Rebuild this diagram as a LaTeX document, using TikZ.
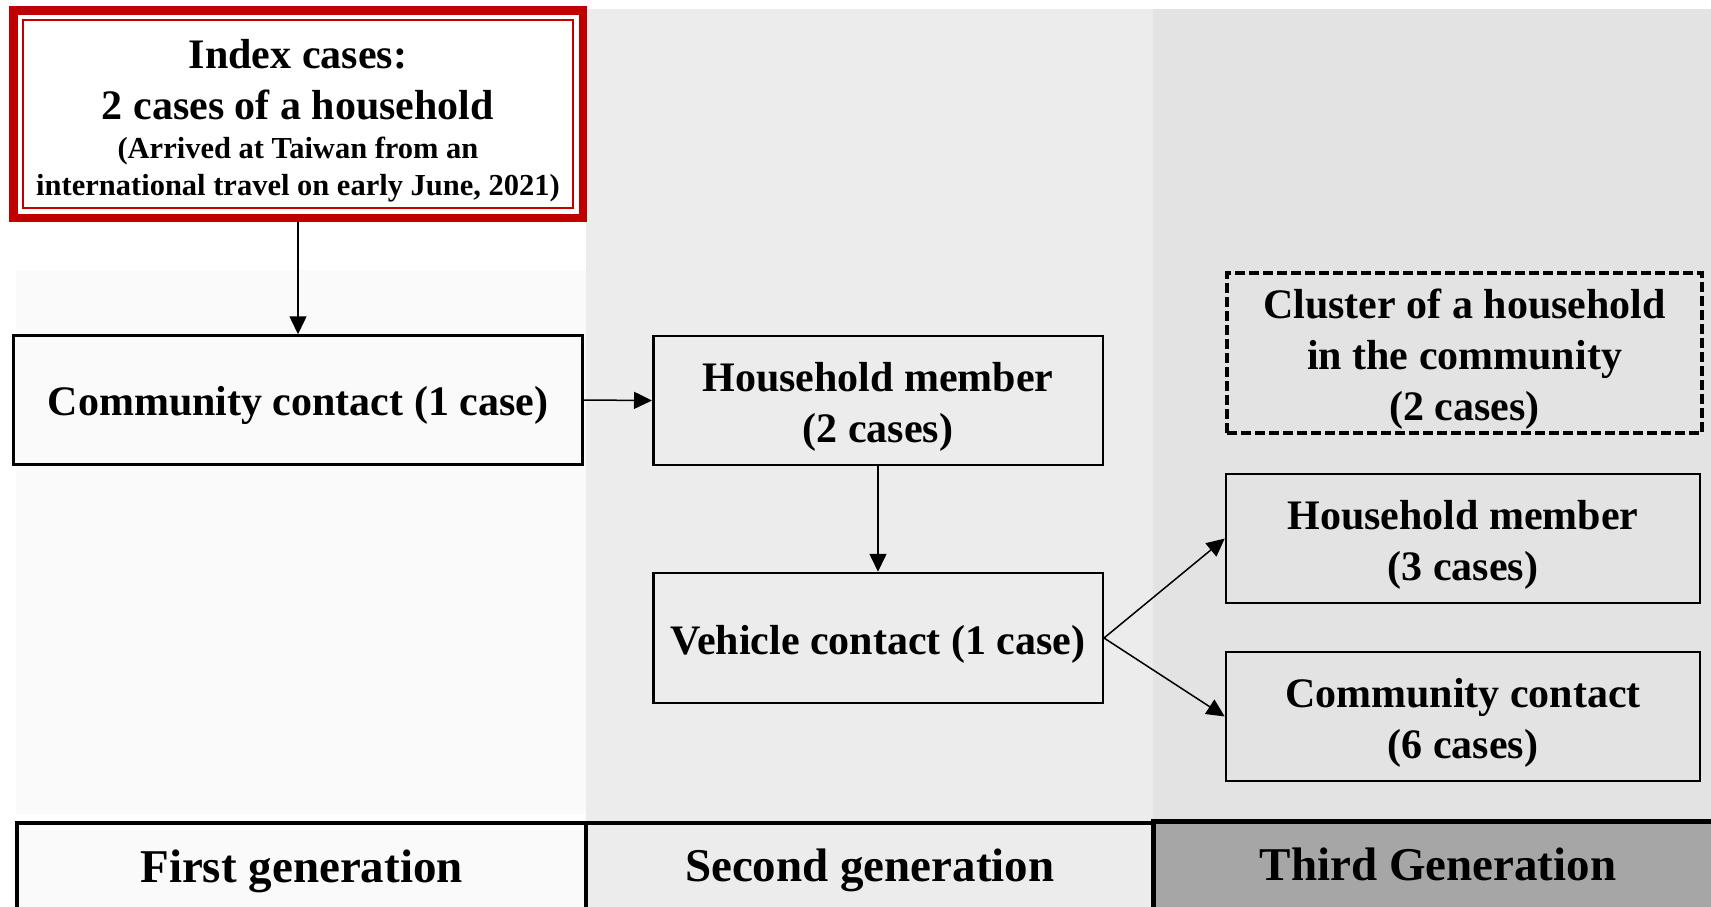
\documentclass[tikz,border=0pt]{standalone}
\usepackage{fontspec}
\setmainfont{Liberation Serif}
\usetikzlibrary{arrows.meta}
\tikzset{>={Triangle[length=18pt,width=17pt]}}
\definecolor{idxred}{HTML}{C00000}
\definecolor{pone}{HTML}{FAFAFA}
\definecolor{ptwo}{HTML}{ECECEC}
\definecolor{pthree}{HTML}{E3E3E3}
\definecolor{genthree}{HTML}{A6A6A6}
\newcommand{\boxstrut}{\rule[-9pt]{0pt}{50pt}}

\begin{document}
\begin{tikzpicture}[x=1pt, y=-1pt,
    box/.style={draw, line width=2.5pt, align=center, inner sep=0pt,
      font=\bfseries\fontsize{42}{51}\selectfont},
    idxbox/.style={draw=idxred, line width=8.5pt, fill=white, inner sep=0pt,
      text width=560pt, align=flush center, font=\bfseries},
    genbox/.style={draw, line width=4pt, minimum height=94pt, inner sep=0pt,
      text height=34pt, text depth=10pt, font=\bfseries\fontsize{47}{56}\selectfont},
    link/.style={->, line width=1.5pt}]
    \useasboundingbox (0,0) rectangle (1711,906);
    \fill[white] (0,0) rectangle (1711,906);
    \fill[pone] (16,270) rectangle (586,814);
    \fill[ptwo] (586,9) rectangle (1153,821);
    \fill[pthree] (1153,9) rectangle (1711,821);

    \node[idxbox, minimum width=569.5pt, minimum height=207.5pt] (idx) at (298,114)
      {{\fontsize{42}{51}\selectfont\rule{0pt}{42.5pt}Index cases:\\2 cases of a household\par}
       \vspace{2pt}
       {\fontsize{30.5}{37}\selectfont (Arrived at Taiwan from an\\international travel on early June, 2021)\par}};
    \draw[idxred, line width=2.5pt] ([shift={(14,14)}]idx.north west) rectangle ([shift={(-14,-14)}]idx.south east);

    \node[box, minimum width=569pt, minimum height=129pt] (cc1) at (298,400) {\boxstrut Community contact (1 case)};
    \node[box, minimum width=449.5pt, minimum height=129pt] (hh2) at (878,400.5) {\boxstrut Household member\\(2 cases)\boxstrut};
    \node[box, minimum width=449.5pt, minimum height=130pt] (veh) at (878,638) {\boxstrut Vehicle contact (1 case)};
    \node[box, dash pattern=on 10pt off 4pt, line width=3.4pt, minimum width=475pt, minimum height=160pt] (clu) at (1464.5,353) {\boxstrut Cluster of a household\\in the community\\(2 cases)\boxstrut};
    \node[box, minimum width=474pt, minimum height=129pt] (hh3) at (1463,538.5) {\boxstrut Household member\\(3 cases)\boxstrut};
    \node[box, minimum width=474pt, minimum height=129pt] (cc6) at (1463,716.5) {\boxstrut Community contact\\(6 cases)\boxstrut};

    \draw[link] (idx.south) -- (cc1.north);
    \draw[link] (cc1.east) -- (hh2.west);
    \draw[link] (hh2.south) -- (veh.north);
    \draw[link] (veh.east) -- (hh3.west);
    \draw[link] (veh.east) -- (cc6.west);

    \node[genbox, fill=pone, minimum width=569pt] (gen1) at (301.5,870) {First generation};
    \node[genbox, fill=ptwo, minimum width=567.5pt] (gen2) at (869.75,869.5) {Second generation};
    \node[genbox, fill=genthree, line width=5pt, minimum width=569pt] (gen3) at (1438,868) {Third Generation};
\end{tikzpicture}
\end{document}
